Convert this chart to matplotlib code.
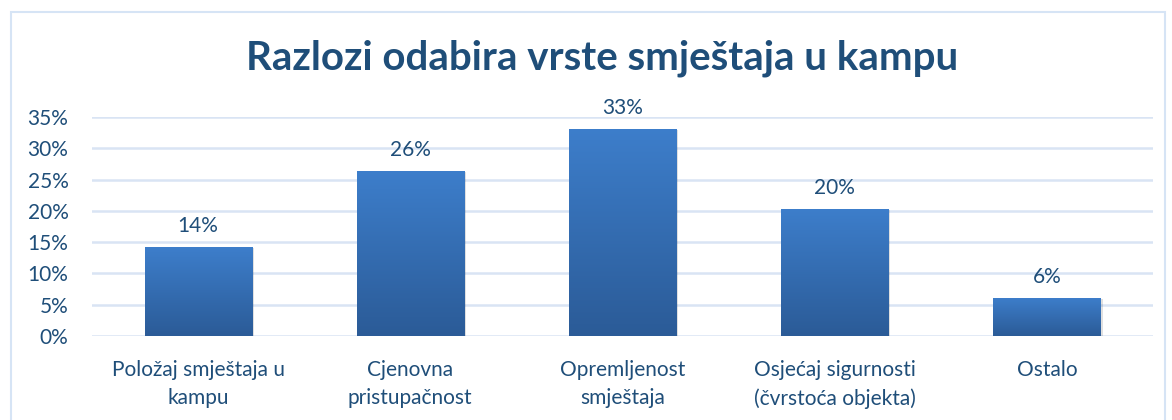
import numpy as np
import matplotlib
matplotlib.use("Agg")
import matplotlib.pyplot as plt
from matplotlib.patches import Rectangle
from matplotlib.colors import LinearSegmentedColormap
from matplotlib.ticker import PercentFormatter

plt.rcParams['font.family'] = ['Lato', 'DejaVu Sans']

categories = ["Položaj smještaja u\nkampu", "Cjenovna\npristupačnost",
              "Opremljenost\nsmještaja", "Osjećaj sigurnosti\n(čvrstoća objekta)",
              "Ostalo"]
values = [0.142, 0.264, 0.331, 0.203, 0.061]
yticks = [0, 0.05, 0.10, 0.15, 0.20, 0.25, 0.30, 0.35]

text_col = "#1f4e79"
grid_col = "#d9e4f4"

fig = plt.figure(figsize=(11.72, 4.2), dpi=100)
ax = fig.add_axes([92/1172, 1 - 336/420, (1153 - 92)/1172, (336 - 117)/420])

# outer chart border
fig.patches.append(Rectangle((11/1172, -0.05), (1165 - 11)/1172, 1.05 - 12/420,
                             transform=fig.transFigure, fill=False,
                             edgecolor="#d6e4f5", lw=1.5))

x = np.arange(len(categories))
bars = ax.bar(x, values, width=0.505, color="none", zorder=3)

cmap = LinearSegmentedColormap.from_list("g", ["#2b5b97", "#3d7ecb"])
grad = np.linspace(0, 1, 256).reshape(-1, 1)
for b in bars:
    x0, w, h = b.get_x(), b.get_width(), b.get_height()
    # soft shadow
    ax.add_patch(Rectangle((x0 + 0.01, -0.002), w, h, color="#000000",
                           alpha=0.12, lw=0, zorder=2))
    im = ax.imshow(grad, extent=(x0, x0 + w, 0, h), origin="lower",
                   cmap=cmap, aspect="auto", zorder=3)
    im.set_clip_path(b)
    ax.text(x0 + w / 2, h + 0.018, f"{h:.0%}", ha="center", va="bottom",
            fontsize=15, color=text_col)

ax.set_xlim(-0.5, len(categories) - 0.5)
ax.set_ylim(0, 0.35)
ax.set_yticks(yticks)
ax.yaxis.set_major_formatter(PercentFormatter(1.0, decimals=0))
ax.set_xticks(x)
ax.set_xticklabels(categories, fontsize=15, color=text_col, linespacing=1.55)
ax.tick_params(axis="y", labelsize=15, labelcolor=text_col, length=0, pad=17)
ax.tick_params(axis="x", length=0, pad=17)
ax.grid(axis="y", color=grid_col, lw=1.8, zorder=0)
ax.set_axisbelow(True)
for s in ax.spines.values():
    s.set_visible(False)

fig.text(0.514, 1 - 58/420, "Razlozi odabira vrste smještaja u kampu",
         ha="center", va="center", fontsize=29, fontweight="bold", color=text_col)

fig.savefig("out.png", dpi=100)
